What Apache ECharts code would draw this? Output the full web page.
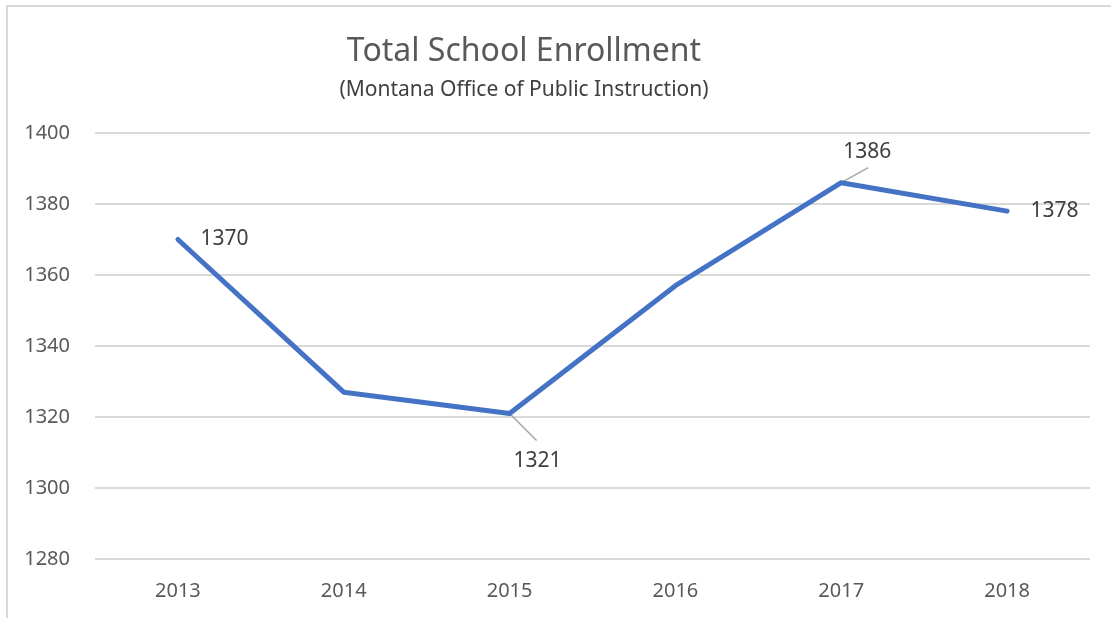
<!DOCTYPE html>
<html>
<head>
<meta charset="utf-8">
<script src="https://cdn.jsdelivr.net/npm/echarts@6/dist/echarts.min.js"></script>
<style>
    html, body { margin: 0; padding: 0; background: #fff; overflow: hidden; }
    .frame {
        position: absolute; left: 6px; top: 5px;
        width: 1120px; height: 630px;
        border: 2px solid #d9d9d9; box-sizing: border-box;
    }
    #chart { position: absolute; left: 0; top: 0; width: 1111px; height: 618px; }
</style>
</head>
<body>
<div class="frame"></div>
<div id="chart"></div>
<script>
    const years = ['2013', '2014', '2015', '2016', '2017', '2018'];
    const enrollment = [1370, 1327, 1321, 1357, 1386, 1378];

    // label placement for the points that carry one (Excel style callouts)
    const labelSetup = {
        0: { position: 'right', distance: 22, offset: [0, 0] },
        2: { position: 'bottom', distance: 37, offset: [28, 0] },
        4: { position: 'top', distance: 20, offset: [26, 0] },
        5: { position: 'right', distance: 23, offset: [0, 0] }
    };
    // leader lines: point index -> end offset in px
    const leaders = { 2: [27, 27], 4: [27, -15] };

    const fontFam = '"Noto Sans", "Open Sans", sans-serif';

    const chart = echarts.init(document.getElementById('chart'));

    const seriesData = enrollment.map(function (v, i) {
        const item = { value: v };
        if (labelSetup[i]) {
            item.label = Object.assign({ show: true }, labelSetup[i]);
        }
        return item;
    });

    const option = {
        animation: false,
        title: {
            text: 'Total School Enrollment',
            subtext: '(Montana Office of Public Instruction)',
            left: 519,
            top: 31,
            textAlign: 'center',
            itemGap: 12,
            textStyle: { fontFamily: fontFam, fontSize: 32, fontWeight: 'normal', color: '#595959' },
            subtextStyle: { fontFamily: fontFam, fontSize: 21, color: '#404040' }
        },
        grid: { left: 95, right: 21, top: 133, bottom: 59 },
        xAxis: {
            type: 'category',
            data: years,
            boundaryGap: true,
            axisLine: { show: false },
            axisTick: { show: false },
            axisLabel: { color: '#595959', fontSize: 20, fontFamily: fontFam, margin: 22 }
        },
        yAxis: {
            type: 'value',
            min: 1280,
            max: 1400,
            interval: 20,
            axisLine: { show: false },
            axisTick: { show: false },
            axisLabel: {
                color: '#595959', fontSize: 20, fontFamily: fontFam, margin: 25,
                formatter: function (v) { return String(v); }
            },
            splitLine: { lineStyle: { color: '#d9d9d9', width: 2 } }
        },
        series: [{
            type: 'line',
            data: seriesData,
            symbol: 'circle',
            symbolSize: 1,
            showSymbol: true,
            itemStyle: { color: 'rgba(0,0,0,0)' },
            lineStyle: { color: '#4472C4', width: 5, cap: 'round', join: 'round' },
            label: { show: false, color: '#404040', fontSize: 21, fontFamily: fontFam }
        }]
    };
    chart.setOption(option);

    // callout leader lines, placed from the data points
    const lines = [];
    Object.keys(leaders).forEach(function (k) {
        const i = Number(k);
        const p = chart.convertToPixel({ seriesIndex: 0 }, [i, enrollment[i]]);
        lines.push({
            type: 'line',
            z: 1,
            shape: { x1: p[0], y1: p[1], x2: p[0] + leaders[k][0], y2: p[1] + leaders[k][1] },
            style: { stroke: '#a6a6a6', lineWidth: 1.5 }
        });
    });
    chart.setOption({ graphic: lines });
</script>
</body>
</html>
